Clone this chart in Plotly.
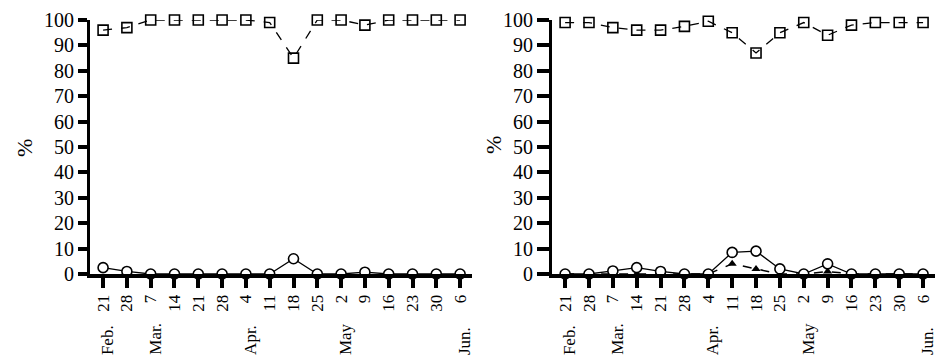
import plotly.graph_objects as go

# ---- data ----
days = ["21", "28", "7", "14", "21", "28", "4", "11", "18", "25", "2", "9", "16", "23", "30", "6"]
months = ["Feb.", "Mar.", "Apr.", "May", "Jun."]
month_pos = [0, 2, 6, 10, 15]   # index of the date each month label sits under

left_squares = [96, 97, 100, 100, 100, 100, 100, 99, 85, 100, 100, 98, 100, 100, 100, 100]
left_circles = [2.5, 1, 0, 0, 0, 0, 0, 0, 6, 0, 0, 0.7, 0, 0, 0, 0]

right_squares = [99, 99, 97, 96, 96, 97.5, 99.5, 95, 87, 95, 99, 94, 98, 99, 99, 99]
right_circles = [0, 0, 1.2, 2.5, 1, 0, 0, 8.5, 9, 2, 0, 4, 0, 0, 0, 0]
right_triangles = [0, 0, 0, 0, 0, 0, 0, 4, 2, 0, 0, 1, 0, 0, 0, 0]

ytick_vals = [0, 10, 20, 30, 40, 50, 60, 70, 80, 90, 100]

xs = list(range(len(days)))
FONT = "Liberation Serif"

fig = go.Figure()

def add_panel(xa, ya, squares, circles, triangles=None):
    if triangles is not None:
        fig.add_trace(go.Scatter(x=xs, y=triangles, xaxis=xa, yaxis=ya, mode="lines+markers",
                                 line=dict(color="black", width=1.5, dash="dash"),
                                 marker=dict(symbol="triangle-up", size=8, color="black"),
                                 cliponaxis=False, showlegend=False))
    fig.add_trace(go.Scatter(x=xs, y=squares, xaxis=xa, yaxis=ya, mode="lines+markers",
                             line=dict(color="black", width=1.3, dash="dash"),
                             marker=dict(symbol="square-open", size=10, color="black",
                                         line=dict(width=1.6)),
                             cliponaxis=False, showlegend=False))
    fig.add_trace(go.Scatter(x=xs, y=circles, xaxis=xa, yaxis=ya, mode="lines+markers",
                             line=dict(color="black", width=1.3),
                             marker=dict(symbol="circle", size=10, color="white",
                                         line=dict(width=1.6, color="black")),
                             cliponaxis=False, showlegend=False))

add_panel("x", "y", left_squares, left_circles)
add_panel("x2", "y2", right_squares, right_circles, right_triangles)

# the page body has an 8px margin: figure is offset by 8px in the window
OFF = 8
W, H = 948, 362
L, R, T, B = 20, 10, 10, 20
def px_x(p):
    return (p - OFF - L) / (W - L - R)
def px_y(p):
    return 1 - (p - OFF - T) / (H - T - B)

xcommon = dict(range=[-0.55, 15.5], tickmode="array", tickvals=xs, ticktext=days,
               tickangle=-90, ticks="outside", ticklen=10, tickwidth=4, tickcolor="black",
               showline=True, linewidth=4, linecolor="black", gridcolor="white", zeroline=False,
               tickfont=dict(family=FONT, size=17, color="black"), automargin=False)
ycommon = dict(range=[0, 100], tickmode="array", tickvals=ytick_vals,
               ticks="outside", tickwidth=4, tickcolor="black",
               showline=True, linewidth=3, linecolor="black", gridcolor="white", zeroline=False,
               tickfont=dict(family=FONT, size=20, color="black"), automargin=False,
               domain=[px_y(274), px_y(20)])

fig.update_layout(
    width=W, height=H,
    margin=dict(l=L, r=R, t=T, b=B, autoexpand=False),
    paper_bgcolor="white", plot_bgcolor="white",
    xaxis=dict(domain=[px_x(90), px_x(472)], anchor="y", **xcommon),
    yaxis=dict(anchor="x", ticklen=9, **ycommon),
    xaxis2=dict(domain=[px_x(552), px_x(935)], anchor="y2", **xcommon),
    yaxis2=dict(anchor="x2", ticklen=12, **ycommon),
    font=dict(family=FONT, color="black"),
)

annotations = []
for xa, pct_x, pct_y in [("x", 24, 148), ("x2", 493, 145)]:
    for m, p in zip(months, month_pos):
        annotations.append(dict(text=m, x=p, xref=xa, y=px_y(357), yref="paper",
                                xanchor="center", yanchor="bottom", textangle=-90, xshift=4,
                                showarrow=False, font=dict(family=FONT, size=17, color="black")))
    annotations.append(dict(text="%", x=px_x(pct_x), y=px_y(pct_y), xref="paper", yref="paper",
                            xanchor="center", yanchor="middle", textangle=-90, showarrow=False,
                            font=dict(family=FONT, size=22, color="black")))
fig.update_layout(annotations=annotations)

fig.write_html("out.html")
